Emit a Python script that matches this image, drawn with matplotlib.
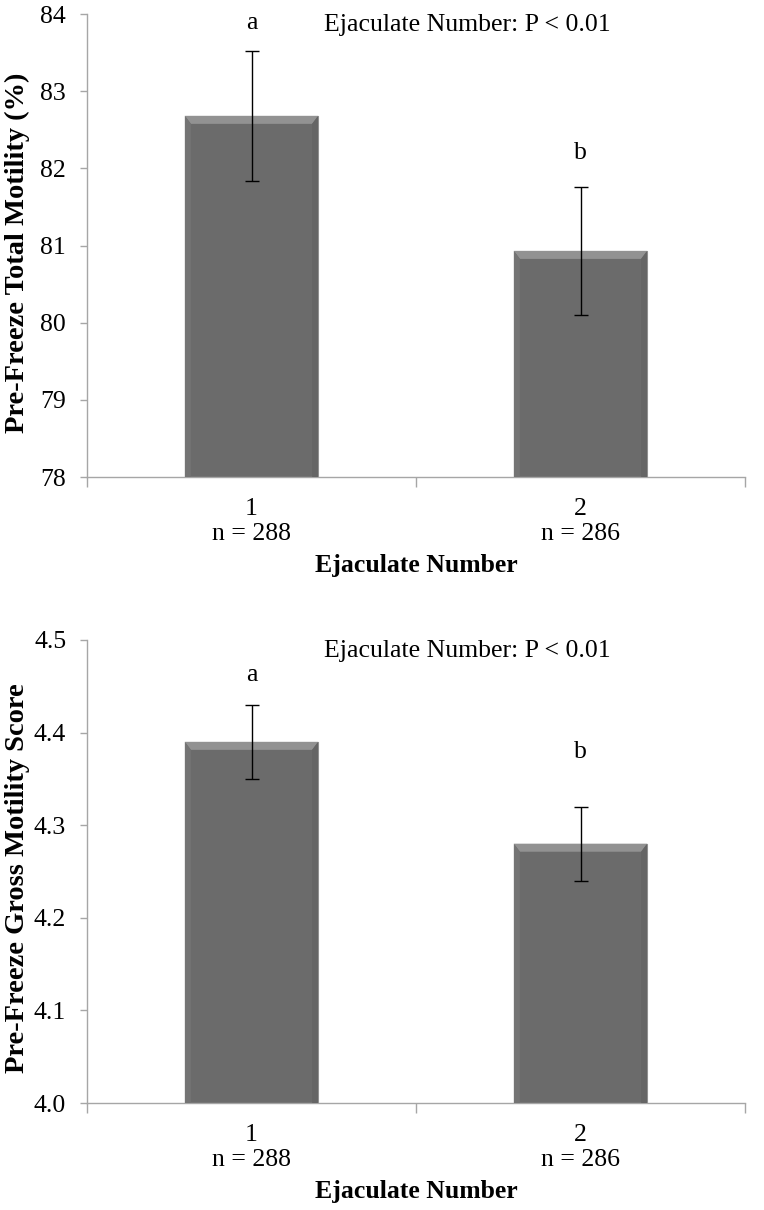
import matplotlib.pyplot as plt
from matplotlib.patches import Polygon

plt.rcParams['font.family'] = ['Liberation Serif', 'DejaVu Serif']

# data
groups = ['1\nn = 288', '2\nn = 286']
total_mot = [82.68, 80.93]
total_err = [0.84, 0.83]
gross_mot = [4.39, 4.28]
gross_err = [0.04, 0.04]
letters = ['a', 'b']
p_text = 'Ejaculate Number: P < 0.01'

W, H = 764, 1210
fig = plt.figure(figsize=(W / 100, H / 100), dpi=100)

AX_W = 658
AX_H = 463
GRID = '#a6a6a6'
BAR = '#6b6b6b'
FS = 18.5


def panel(rect, means, errs, ylim, yticks, fmt, ylabel, letter_y):
    ax = fig.add_axes(rect)
    x = [1, 2]
    bars = ax.bar(x, means, width=0.405, color=BAR, edgecolor='#969696',
                  linewidth=0.8, zorder=2)
    ax.errorbar(x, means, yerr=errs, fmt='none', ecolor='black',
                elinewidth=1.0, capsize=5, capthick=1.0, zorder=4)

    # bevel look along the top and sides of each bar
    yr = ylim[1] - ylim[0]
    dy = 8 / AX_H * yr
    dx = 6 / AX_W * 2.0
    for b in bars:
        x0 = b.get_x()
        x1 = x0 + b.get_width()
        top = b.get_height()
        ax.add_patch(Polygon([(x0, top), (x1, top), (x1 - dx, top - dy),
                              (x0 + dx, top - dy)], closed=True,
                             facecolor='#929292', edgecolor='none', zorder=3))
        ax.add_patch(Polygon([(x0, top), (x0 + dx, top - dy),
                              (x0 + dx, ylim[0]), (x0, ylim[0])], closed=True,
                             facecolor='#747474', edgecolor='none', zorder=3))
        ax.add_patch(Polygon([(x1, top), (x1 - dx, top - dy),
                              (x1 - dx, ylim[0]), (x1, ylim[0])], closed=True,
                             facecolor='#656565', edgecolor='none', zorder=3))

    for xi, lt, ly in zip(x, letters, letter_y):
        ax.text(xi, ly, lt, ha='center', va='center', fontsize=FS)

    ax.text(0.578, 0.976, p_text, transform=ax.transAxes, ha='center',
            va='center', fontsize=FS)

    ax.set_xlim(0.5, 2.5)
    ax.set_ylim(*ylim)
    ax.set_yticks(yticks)
    ax.set_yticklabels([fmt.format(v) for v in yticks])
    ax.set_xticks(x)
    ax.set_xticklabels(groups, linespacing=1.2)
    ax.set_xticks([0.5, 1.5, 2.5], minor=True)
    ax.tick_params(axis='x', which='major', length=0, pad=15, labelsize=FS)
    ax.tick_params(axis='x', which='minor', length=7, width=1, color=GRID)
    ax.tick_params(axis='y', length=5, width=1, color=GRID, pad=10,
                   labelsize=FS)

    for s in ['top', 'right']:
        ax.spines[s].set_visible(False)
    for s in ['left', 'bottom']:
        ax.spines[s].set_color(GRID)
        ax.spines[s].set_linewidth(1.0)

    ax.set_xlabel('Ejaculate Number', fontsize=FS, fontweight='bold',
                  labelpad=6)
    ax.set_ylabel(ylabel, fontsize=20.5, fontweight='bold')
    ax.yaxis.set_label_coords(-0.087, 0.485)
    return ax


left = 87 / W
width = AX_W / W
panel([left, 1 - 477 / H, width, AX_H / H], total_mot, total_err,
      (78, 84), [78, 79, 80, 81, 82, 83, 84], '{:.0f}',
      'Pre-Freeze Total Motility (%)', [83.88, 82.2])
panel([left, 1 - 1103 / H, width, AX_H / H], gross_mot, gross_err,
      (4.0, 4.5), [4.0, 4.1, 4.2, 4.3, 4.4, 4.5], '{:.1f}',
      'Pre-Freeze Gross Motility Score', [4.462, 4.379])

fig.savefig('out.png', dpi=100)
